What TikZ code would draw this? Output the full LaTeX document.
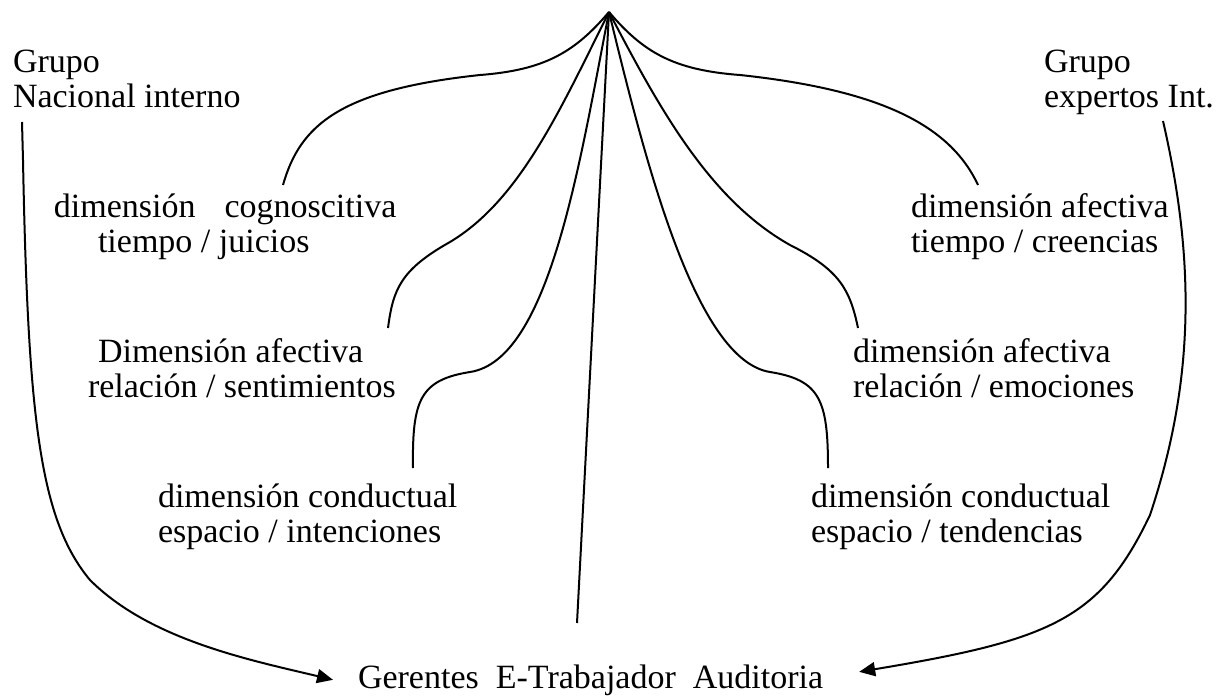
\documentclass[tikz,border=0pt]{standalone}
\usepackage{fontspec}
\setmainfont{Liberation Serif}
\usetikzlibrary{arrows.meta}

\tikzset{every picture/.style={line width=1pt}}
\tikzset{lbl/.style={anchor=base west, inner sep=0pt, align=left, font=\fontsize{17}{17.5}\selectfont},
  tip/.style={-{Triangle[length=8pt,width=7pt]}}}

\begin{document}
\begin{tikzpicture}[x=0.5pt,y=0.5pt,yscale=-1]
\useasboundingbox (0,0) rectangle (1226,696);

% Text Node
\node [lbl] (grpL) at (12,107) {Grupo\\Nacional interno};
% Text Node
\node [lbl] (grpR) at (1043,107) {Grupo\\expertos Int.};
% Text Node
\node [lbl] (cog) at (53,252) {dimensión\hspace{0.85em}cognoscitiva\\\hspace*{22pt}tiempo / juicios};
% Text Node
\node [lbl] (afL) at (87,397) {\hspace*{5pt}Dimensión afectiva\\relación / sentimientos};
% Text Node
\node [lbl] (conL) at (157,542) {dimensión conductual\\espacio / intenciones};
% Text Node
\node [lbl] (afT) at (910,252) {dimensión afectiva\\tiempo / creencias};
% Text Node
\node [lbl] (afR) at (852,397) {dimensión afectiva\\relación / emociones};
% Text Node
\node [lbl] (conR) at (810,542) {dimensión conductual\\espacio / tendencias};
% Text Node
\node [lbl] (ger) at (357,688) {Gerentes~~E-Trabajador~~Auditoria};

\coordinate (top) at (609,12);
\coordinate (c1) at (283,185);
\coordinate (c2) at (388,328);
\coordinate (c3) at (413,468);
\coordinate (c4) at (828,468);
\coordinate (c5) at (858,328);
\coordinate (c6) at (978,185);
\coordinate (bot) at (577,623);
\coordinate (gl) at (22,122);
\coordinate (gr) at (1163,121);

%Curve Lines
\draw (top) .. controls (575,52) and (545,70) .. (480,75) .. controls (340,90) and (300,125) .. (c1);
\draw (top) .. controls (560,110) and (520,200) .. (450,242) .. controls (400,270) and (393,290) .. (c2);
\draw (top) .. controls (580,160) and (550,360) .. (470,372) .. controls (420,380) and (412,400) .. (c3);
%Straight Lines
\draw (top) -- (bot);
%Curve Lines
\draw (top) .. controls (645,160) and (695,360) .. (770,372) .. controls (820,380) and (828,400) .. (c4);
\draw (top) .. controls (660,110) and (710,200) .. (790,245) .. controls (840,270) and (850,290) .. (c5);
\draw (top) .. controls (643,52) and (673,70) .. (740,75) .. controls (880,90) and (950,125) .. (c6);

%Curve Lines with arrows
\draw [tip] (gl) -- (23,160) .. controls (28,420) and (40,520) .. (90,580) .. controls (150,640) and (250,660) .. ([xshift=-12pt]ger.west);
\draw [tip] (gr) .. controls (1195,260) and (1195,380) .. (1150,515) .. controls (1100,620) and (1050,640) .. ([xshift=17.5pt,yshift=-4pt]ger.east);

\end{tikzpicture}
\end{document}
